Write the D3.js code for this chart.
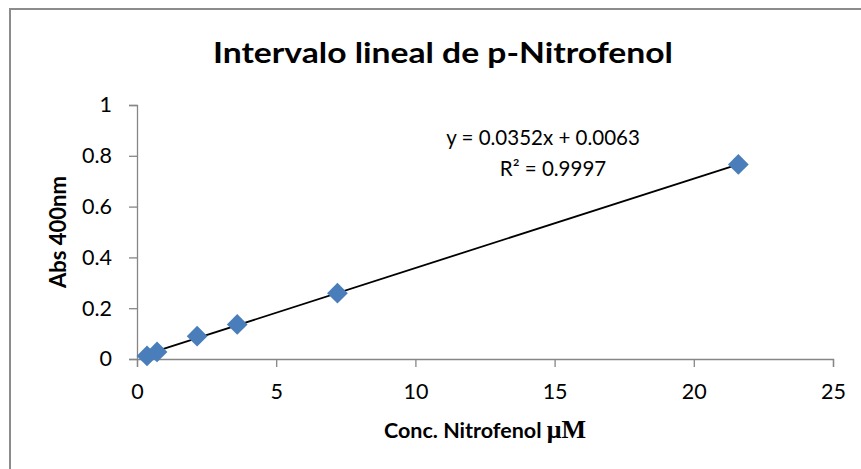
<html>
<head>
  <style>
  body { margin: 0; background: #fff; }
  #chart text { font-family: Lato, "Open Sans", sans-serif; fill: #000; }
  #chart .axis path, #chart .axis line { stroke: #868686; stroke-width: 1.3; }
  </style>
  <script src="https://d3js.org/d3.v7.min.js"></script>
</head>
<body>
  <svg id="chart"></svg>
</body>
  <script>
  // data
  var conc = [0.36, 0.72, 2.16, 3.6, 7.2, 21.6];
  var abs = [0.012, 0.028, 0.09, 0.136, 0.259, 0.766];
  var xTicks = [0, 5, 10, 15, 20, 25];
  var yTicks = [0, 0.2, 0.4, 0.6, 0.8, 1];
  var slope = 0.0352, intercept = 0.0063, r2 = 0.9997;

  var width = 861, height = 469;
  var pLeft = 137, pRight = 833, pTop = 105, pBottom = 359;

  var svg = d3.select("#chart")
      .attr("width", width)
      .attr("height", height);

  // outer chart border (runs off right / bottom edge)
  svg.append("rect")
      .attr("x", 10).attr("y", 9)
      .attr("width", 900).attr("height", 500)
      .attr("fill", "none")
      .attr("stroke", "#8c8c8c")
      .attr("stroke-width", 2);

  var x = d3.scaleLinear().domain([0, 25]).range([pLeft, pRight]);
  var y = d3.scaleLinear().domain([0, 1]).range([pBottom, pTop]);

  // axes
  var xAxis = svg.append("g")
      .attr("class", "axis")
      .attr("transform", "translate(0," + pBottom + ")")
      .call(d3.axisBottom(x).tickValues(xTicks).tickSize(8).tickSizeOuter(8).tickPadding(17));
  xAxis.selectAll("text").style("font-size", "21.5px");

  var yAxis = svg.append("g")
      .attr("class", "axis")
      .attr("transform", "translate(" + pLeft + ",0)")
      .call(d3.axisLeft(y).tickValues(yTicks).tickSize(8).tickSizeOuter(8).tickPadding(17)
        .tickFormat(function(d) { return d3.format("")(+d.toFixed(1)); }));
  yAxis.selectAll("text").style("font-size", "21.5px");

  // trendline
  var xr = d3.extent(conc);
  svg.append("line")
      .attr("x1", x(xr[0])).attr("y1", y(slope * xr[0] + intercept))
      .attr("x2", x(xr[1])).attr("y2", y(slope * xr[1] + intercept))
      .attr("stroke", "#000")
      .attr("stroke-width", 1.8);

  // diamond markers
  var pts = conc.map(function(c, i) { return [c, abs[i]]; });
  svg.selectAll("path.pt")
      .data(pts)
    .enter().append("path")
      .attr("class", "pt")
      .attr("d", d3.symbol().type(d3.symbolSquare).size(215))
      .attr("transform", function(d) { return "translate(" + x(d[0]) + "," + y(d[1]) + ") rotate(45)"; })
      .attr("fill", "#4a7ebb");

  // title
  svg.append("text")
      .attr("x", 443).attr("y", 63)
      .attr("text-anchor", "middle")
      .attr("textLength", 460)
      .attr("lengthAdjust", "spacingAndGlyphs")
      .style("font-size", "29px")
      .style("font-weight", "bold")
      .text("Intervalo lineal de p-Nitrofenol");

  // equation
  svg.append("text")
      .attr("x", 543).attr("y", 145)
      .attr("text-anchor", "middle")
      .style("font-size", "20.5px")
      .text("y = " + slope + "x + " + intercept);
  svg.append("text")
      .attr("x", 553).attr("y", 176)
      .attr("text-anchor", "middle")
      .style("font-size", "20.5px")
      .text("R\u00b2 = " + r2);

  // axis titles
  var xt = svg.append("text")
      .attr("x", (pLeft + pRight) / 2).attr("y", 438)
      .attr("text-anchor", "middle")
      .style("font-size", "21.5px")
      .style("font-weight", "bold");
  xt.append("tspan").text("Conc. Nitrofenol ");
  xt.append("tspan")
      .style("font-family", "'Liberation Serif', serif")
      .style("font-size", "26px")
      .text("\u03bcM");

  svg.append("text")
      .attr("transform", "translate(66," + (pTop + pBottom) / 2 + ") rotate(-90)")
      .attr("text-anchor", "middle")
      .style("font-size", "22px")
      .style("font-weight", "bold")
      .text("Abs 400nm");
  </script>
</html>
